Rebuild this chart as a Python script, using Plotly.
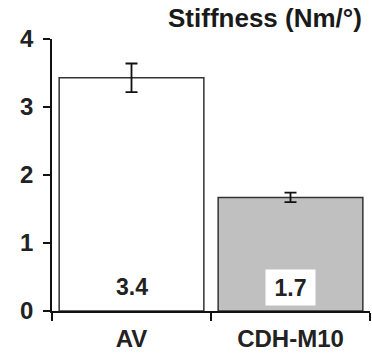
import plotly.graph_objects as go

categories = ["AV", "CDH-M10"]
values = [3.43, 1.67]
errors = [0.21, 0.07]
value_labels = ["3.4", "1.7"]
fill_colors = ["#ffffff", "#c0c0c0"]
y_ticks = [0, 1, 2, 3, 4]

FONT = "Liberation Sans, Arial, sans-serif"
W, H = 372, 354
ML, MR, MT, MB = 52, 2, 39, 43

fig = go.Figure()
fig.add_trace(go.Bar(
    x=categories, y=values,
    marker=dict(color=fill_colors, line=dict(color="#333333", width=1.5)),
    error_y=dict(type="data", array=errors, color="#111111", thickness=1.8, width=6),
    width=0.91,
))

for c, v, lab in zip(categories, values, value_labels):
    boxed = c != categories[0]
    fig.add_annotation(
        x=c, y=0.35, xref="x", yref="y", text="<b>" + lab + "</b>",
        showarrow=False, font=dict(family=FONT, size=23, color="#222222"),
        bgcolor="#ffffff" if boxed else "rgba(0,0,0,0)",
        width=47 if boxed else None, height=33 if boxed else None,
    )

fig.add_annotation(
    xref="paper", yref="paper",
    x=(364 - ML) / (W - ML - MR), xanchor="right",
    y=1 + (MT - 18) / (H - MT - MB), yanchor="middle",
    text="<b>Stiffness (Nm/°)</b>", showarrow=False,
    font=dict(family=FONT, size=26, color="#1a1a1a"),
)

fig.update_layout(
    width=W, height=H,
    margin=dict(l=ML, r=MR, t=MT, b=MB, autoexpand=False),
    paper_bgcolor="#ffffff", plot_bgcolor="#ffffff",
    showlegend=False,
    font=dict(family=FONT),
)
fig.update_xaxes(
    range=[-0.5, 1.5], showline=True, linecolor="#111111", linewidth=1.5,
    ticks="outside", tickson="boundaries", ticklen=8, tickcolor="#111111", tickwidth=1.5,
    tickfont=dict(family=FONT, size=24, color="#222222"),
    tickvals=categories, ticktext=["<b>" + c + "</b>" for c in categories],
    ticklabelstandoff=5,
    showgrid=False, zeroline=False, automargin=False,
)
fig.update_yaxes(
    range=[0, 4], tickvals=y_ticks, ticktext=["<b>%d</b>" % t for t in y_ticks],
    showline=True, linecolor="#111111", linewidth=1.5,
    ticks="outside", ticklen=7, tickcolor="#111111", tickwidth=1.5,
    tickfont=dict(family=FONT, size=24, color="#222222"),
    ticklabelstandoff=5,
    showgrid=False, zeroline=False, automargin=False,
)

fig.write_html("out.html", config={"displayModeBar": False},
               post_script="document.body.style.margin='0';")
